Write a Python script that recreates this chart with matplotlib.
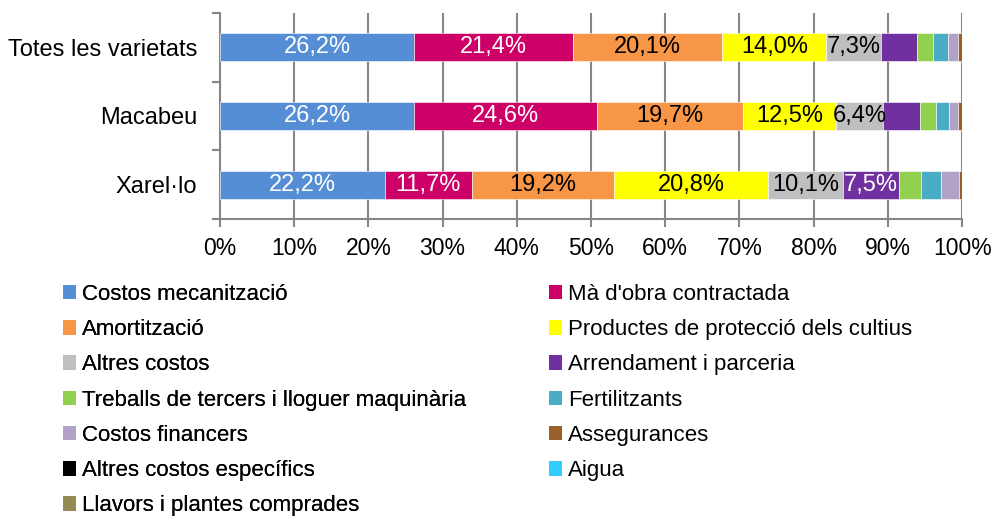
import numpy as np
import matplotlib
matplotlib.use('Agg')
import matplotlib.pyplot as plt
from matplotlib.patches import Patch

plt.rcParams['font.family'] = ['Liberation Sans', 'DejaVu Sans']

# categories (top to bottom)
varietats = ['Totes les varietats', 'Macabeu', 'Xarel·lo']

conceptes = ['Costos mecanització', "Mà d'obra contractada", 'Amortització',
             'Productes de protecció dels cultius', 'Altres costos',
             'Arrendament i parceria', 'Treballs de tercers i lloguer maquinària',
             'Fertilitzants', 'Costos financers', 'Assegurances',
             'Altres costos específics', 'Aigua', 'Llavors i plantes comprades']

colors = ['#558ED5', '#CC0066', '#F79646', '#FFFF00', '#BFBFBF', '#7030A0',
          '#92D050', '#4BACC6', '#B3A2C7', '#9B5F2B', '#000000', '#33CCFF', '#948A54']

# percentages per variety, same order as conceptes
totes   = [26.2, 21.4, 20.1, 14.0, 7.3, 4.85, 2.25, 2.0, 1.35, 0.6, 0, 0, 0]
macabeu = [26.2, 24.6, 19.7, 12.5, 6.4, 4.95, 2.07, 1.75, 1.26, 0.58, 0, 0, 0]
xarello = [22.2, 11.7, 19.2, 20.8, 10.1, 7.5, 3.0, 2.65, 2.43, 0.36, 0, 0, 0]

white_text = [True, True, False, False, False, True, False, False, False, False, False, False, False]

data = np.array([totes, macabeu, xarello])

fig = plt.figure(figsize=(9.95, 5.2), dpi=100)
ax = fig.add_axes([0.221, 0.579, 0.746, 0.396])

ypos = np.arange(len(varietats))
left = np.zeros(len(varietats))
for j in range(len(conceptes)):
    vals = data[:, j]
    ax.barh(ypos, vals, left=left, height=0.41, color=colors[j],
            edgecolor='white', linewidth=0.4, zorder=3)
    for i in range(len(varietats)):
        # excel only shows the labels that fit
        if vals[i] >= 6:
            txt = ('%.1f%%' % vals[i]).replace('.', ',')
            ax.text(left[i] + vals[i] / 2, ypos[i], txt, ha='center', va='center',
                    fontsize=17, color='white' if white_text[j] else 'black', zorder=4)
    left += vals

ax.set_xlim(0, 100)
ax.set_ylim(2.5, -0.5)
ax.set_xticks(np.arange(0, 101, 10))
ax.set_xticklabels(['%d%%' % v for v in range(0, 101, 10)], fontsize=16.5)
ax.set_yticks(ypos)
ax.set_yticklabels(varietats, fontsize=17)
ax.tick_params(axis='y', length=0, pad=16.5)
ax.set_yticks([-0.5, 0.5, 1.5, 2.5], minor=True)
ax.tick_params(axis='y', which='minor', length=6, color='#878787', width=1.5)
ax.tick_params(axis='x', length=6, color='#878787', width=1.5, pad=7)
ax.xaxis.grid(True, color='#878787', linewidth=1.5, zorder=0)
ax.set_axisbelow(True)
for s in ['top', 'right']:
    ax.spines[s].set_visible(False)
for s in ['left', 'bottom']:
    ax.spines[s].set_color('#878787')
    ax.spines[s].set_linewidth(1.5)

# legend laid out row by row, two columns
handles = [Patch(facecolor=c, edgecolor='none') for c in colors]
leg_kw = dict(loc='upper left', frameon=False, fontsize=16, handlelength=0.6,
              handleheight=0.63, handletextpad=0.25, labelspacing=0.64,
              borderaxespad=0, borderpad=0)
leg1 = fig.legend(handles[0::2], conceptes[0::2], bbox_to_anchor=(63 / 995, 1 - 284 / 520), **leg_kw)
fig.add_artist(leg1)
fig.legend(handles[1::2], conceptes[1::2], bbox_to_anchor=(549 / 995, 1 - 284 / 520), **leg_kw)

fig.savefig('out.png', dpi=100)
